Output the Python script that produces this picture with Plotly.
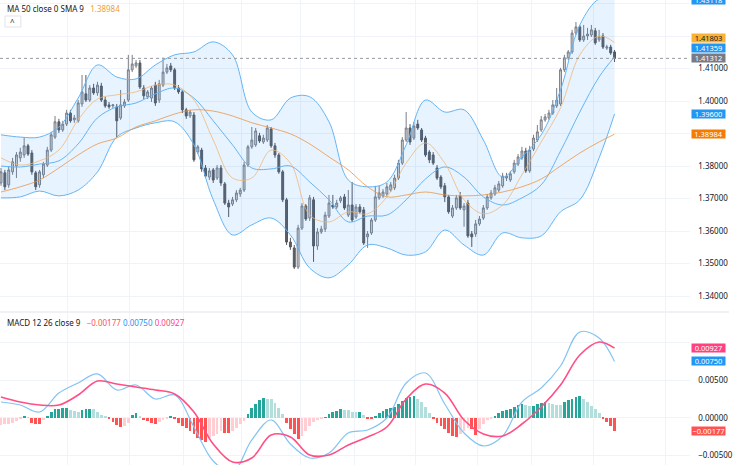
import plotly.graph_objects as go

# ---------------- data ----------------
bar_idx = list(range(160))

open_p = [1.3748,1.3779,1.3742,1.3782,1.3800,1.3825,1.3834,1.3862,1.3840,1.3779,
          1.3742,1.3773,1.3803,1.3849,1.3889,1.3936,1.3911,1.3929,1.3963,1.3942,
          1.3939,1.3991,1.4022,1.4003,1.4040,1.4025,1.4046,1.4003,1.3988,1.3985,
          1.3982,1.3948,1.3985,1.4003,1.4096,1.4108,1.4117,1.4040,1.4013,1.4009,
          1.4049,1.4003,1.4049,1.4089,1.4108,1.4096,1.4040,1.4028,1.3973,1.3954,
          1.3957,1.3843,1.3849,1.3794,1.3766,1.3788,1.3763,1.3794,1.3745,1.3686,
          1.3683,1.3696,1.3714,1.3726,1.3803,1.3859,1.3865,1.3893,1.3874,1.3880,
          1.3914,1.3862,1.3834,1.3782,1.3696,1.3566,1.3548,1.3489,1.3609,1.3677,
          1.3640,1.3696,1.3554,1.3597,1.3606,1.3646,1.3680,1.3674,1.3693,1.3705,
          1.3649,1.3680,1.3643,1.3674,1.3665,1.3582,1.3594,1.3634,1.3702,1.3708,
          1.3714,1.3726,1.3733,1.3763,1.3809,1.3880,1.3917,1.3886,1.3929,1.3911,
          1.3886,1.3843,1.3834,1.3794,1.3766,1.3739,1.3705,1.3646,1.3671,1.3708,
          1.3665,1.3686,1.3591,1.3591,1.3622,1.3640,1.3671,1.3702,1.3714,1.3726,
          1.3739,1.3763,1.3757,1.3782,1.3806,1.3825,1.3846,1.3785,1.3852,1.3880,
          1.3911,1.3942,1.3948,1.3963,1.3985,1.3991,1.4096,1.4133,1.4151,1.4209,
          1.4228,1.4188,1.4200,1.4203,1.4216,1.4188,1.4200,1.4163,1.4166,1.4151]
high_p = [1.3794,1.3788,1.3800,1.3825,1.3843,1.3856,1.3889,1.3868,1.3849,1.3785,
          1.3788,1.3813,1.3859,1.3905,1.3954,1.3945,1.3939,1.3973,1.3973,1.3957,
          1.4003,1.4080,1.4080,1.4049,1.4053,1.4059,1.4056,1.4013,1.3997,1.3991,
          1.3991,1.4034,1.4006,1.4142,1.4142,1.4126,1.4126,1.4049,1.4034,1.4046,
          1.4059,1.4065,1.4133,1.4114,1.4117,1.4102,1.4049,1.4034,1.3979,1.3973,
          1.3966,1.3865,1.3856,1.3803,1.3794,1.3794,1.3803,1.3803,1.3751,1.3696,
          1.3705,1.3726,1.3733,1.3813,1.3865,1.3920,1.3917,1.3902,1.3896,1.3926,
          1.3920,1.3871,1.3840,1.3788,1.3702,1.3579,1.3557,1.3619,1.3686,1.3683,
          1.3711,1.3705,1.3609,1.3616,1.3659,1.3711,1.3711,1.3696,1.3708,1.3714,
          1.3726,1.3751,1.3683,1.3683,1.3674,1.3600,1.3640,1.3739,1.3739,1.3729,
          1.3748,1.3751,1.3773,1.3819,1.3889,1.3966,1.3929,1.3936,1.3942,1.3917,
          1.3893,1.3849,1.3843,1.3803,1.3772,1.3748,1.3711,1.3680,1.3711,1.3720,
          1.3686,1.3696,1.3600,1.3634,1.3646,1.3680,1.3714,1.3726,1.3742,1.3754,
          1.3779,1.3779,1.3785,1.3819,1.3837,1.3859,1.3856,1.3862,1.3896,1.3926,
          1.3954,1.3960,1.3973,1.4003,1.4040,1.4102,1.4142,1.4157,1.4219,1.4243,
          1.4234,1.4234,1.4225,1.4234,1.4225,1.4219,1.4209,1.4173,1.4173,1.4157]
low_p = [1.3739,1.3726,1.3733,1.3773,1.3763,1.3813,1.3825,1.3831,1.3773,1.3726,
         1.3733,1.3763,1.3797,1.3843,1.3883,1.3902,1.3905,1.3923,1.3933,1.3933,
         1.3933,1.3982,1.3997,1.3997,1.4019,1.4016,1.3997,1.3979,1.3976,1.3979,
         1.3889,1.3942,1.3979,1.3997,1.4089,1.4102,1.4037,1.4006,1.4006,1.3997,
         1.3985,1.3994,1.4043,1.4083,1.4089,1.4034,1.4022,1.3963,1.3945,1.3948,
         1.3813,1.3837,1.3782,1.3763,1.3757,1.3748,1.3757,1.3739,1.3680,1.3643,
         1.3677,1.3689,1.3705,1.3720,1.3797,1.3853,1.3859,1.3871,1.3868,1.3874,
         1.3856,1.3825,1.3776,1.3689,1.3557,1.3542,1.3483,1.3483,1.3603,1.3631,
         1.3631,1.3505,1.3542,1.3591,1.3597,1.3640,1.3668,1.3668,1.3686,1.3665,
         1.3643,1.3628,1.3637,1.3653,1.3557,1.3548,1.3588,1.3628,1.3696,1.3702,
         1.3708,1.3720,1.3726,1.3757,1.3803,1.3874,1.3865,1.3880,1.3911,1.3874,
         1.3828,1.3809,1.3803,1.3757,1.3729,1.3689,1.3653,1.3640,1.3665,1.3665,
         1.3613,1.3579,1.3551,1.3582,1.3616,1.3634,1.3665,1.3696,1.3708,1.3720,
         1.3733,1.3754,1.3751,1.3776,1.3800,1.3819,1.3779,1.3779,1.3846,1.3874,
         1.3905,1.3936,1.3942,1.3957,1.3979,1.3985,1.4089,1.4126,1.4145,1.4203,
         1.4182,1.4182,1.4188,1.4197,1.4173,1.4182,1.4160,1.4157,1.4142,1.4120]
close_p = [1.3782,1.3736,1.3788,1.3813,1.3834,1.3843,1.3862,1.3837,1.3782,1.3736,
           1.3782,1.3806,1.3849,1.3896,1.3936,1.3911,1.3929,1.3963,1.3939,1.3948,
           1.3994,1.4028,1.4003,1.4040,1.4025,1.4049,1.4003,1.3985,1.3982,1.3988,
           1.3939,1.3988,1.3997,1.4096,1.4114,1.4117,1.4043,1.4016,1.4028,1.4040,
           1.3994,1.4053,1.4089,1.4102,1.4096,1.4040,1.4028,1.3973,1.3954,1.3966,
           1.3819,1.3859,1.3791,1.3769,1.3785,1.3757,1.3794,1.3748,1.3686,1.3674,
           1.3696,1.3717,1.3726,1.3803,1.3859,1.3880,1.3908,1.3877,1.3886,1.3917,
           1.3862,1.3834,1.3782,1.3696,1.3566,1.3551,1.3489,1.3609,1.3677,1.3637,
           1.3702,1.3554,1.3597,1.3606,1.3649,1.3686,1.3674,1.3686,1.3702,1.3671,
           1.3680,1.3634,1.3674,1.3659,1.3563,1.3591,1.3634,1.3705,1.3717,1.3720,
           1.3736,1.3742,1.3763,1.3809,1.3880,1.3917,1.3874,1.3923,1.3917,1.3880,
           1.3834,1.3819,1.3809,1.3763,1.3736,1.3705,1.3659,1.3671,1.3702,1.3671,
           1.3677,1.3585,1.3582,1.3622,1.3637,1.3671,1.3705,1.3717,1.3733,1.3745,
           1.3769,1.3769,1.3776,1.3809,1.3828,1.3846,1.3785,1.3849,1.3886,1.3905,
           1.3942,1.3951,1.3963,1.3988,1.4003,1.4096,1.4133,1.4151,1.4209,1.4228,
           1.4188,1.4200,1.4206,1.4219,1.4179,1.4197,1.4166,1.4166,1.4148,1.4131]

# indicator lines, read at these bar positions
ind_idx = [0,5,10,15,20,25,30,35,40,45,50,55,60,65,70,75,80,85,90,95,
           100,105,110,115,120,125,130,135,140,145,150,155,159]
bb_upper = [1.3896,1.3889,1.3889,1.3920,1.4009,1.4111,1.4074,1.4068,1.4111,1.4142,
            1.4151,1.4182,1.4142,1.3966,1.3942,1.4009,1.4013,1.3936,1.3757,1.3736,
            1.3751,1.3865,1.4003,1.3966,1.3973,1.3880,1.3766,1.3828,1.3896,1.4034,
            1.4234,1.4314,1.4312]
bb_mid = [1.3800,1.3797,1.3806,1.3816,1.3868,1.3948,1.3982,1.3994,1.4022,1.4040,
          1.4009,1.3939,1.3865,1.3794,1.3791,1.3800,1.3751,1.3696,1.3628,1.3646,
          1.3649,1.3696,1.3760,1.3797,1.3766,1.3705,1.3680,1.3702,1.3742,1.3846,
          1.3966,1.4074,1.4136]
bb_lower = [1.3702,1.3705,1.3723,1.3708,1.3726,1.3782,1.3889,1.3917,1.3933,1.3936,
            1.3865,1.3696,1.3588,1.3619,1.3640,1.3588,1.3486,1.3456,1.3496,1.3557,
            1.3548,1.3526,1.3536,1.3603,1.3557,1.3526,1.3594,1.3579,1.3585,1.3659,
            1.3696,1.3825,1.3960]
ma_fast = [1.3825,1.3803,1.3816,1.3849,1.3942,1.4006,1.4019,1.4028,1.4049,1.4049,
           1.4003,1.3880,1.3763,1.3763,1.3849,1.3809,1.3649,1.3628,1.3659,1.3653,
           1.3705,1.3809,1.3871,1.3809,1.3696,1.3653,1.3680,1.3773,1.3874,1.3979,
           1.4142,1.4200,1.4180]
ma_50 = [1.3720,1.3736,1.3757,1.3794,1.3834,1.3868,1.3886,1.3920,1.3939,1.3960,
         1.3973,1.3969,1.3954,1.3933,1.3917,1.3899,1.3868,1.3828,1.3788,1.3736,
         1.3705,1.3711,1.3720,1.3711,1.3708,1.3711,1.3720,1.3736,1.3760,1.3800,
         1.3840,1.3874,1.3898]

macd_line = [0.00209,0.00169,0.00076,0.00329,0.00463,0.00583,0.00369,0.00436,0.00249,0.00303,
             -0.00124,-0.00577,-0.00724,-0.00297,-0.00031,-0.00351,-0.00537,-0.00471,-0.00204,-0.00164,
             -0.00004,0.00463,0.00596,0.00183,-0.00204,-0.00377,-0.00244,0.00209,0.00396,0.00689,
             0.01143,0.01063,0.00750]
signal_line = [0.00276,0.00209,0.00169,0.00169,0.00303,0.00489,0.00449,0.00409,0.00369,0.00316,
               0.00076,-0.00351,-0.00591,-0.00537,-0.00231,-0.00257,-0.00497,-0.00497,-0.00364,-0.00257,
               -0.00124,0.00249,0.00449,0.00329,-0.00031,-0.00217,-0.00244,-0.00084,0.00143,0.00436,
               0.00836,0.01009,0.00927]
hist = [-0.00098,-0.00089,-0.00080,-0.00067,-0.00044,-0.00022,0.00013,0.00004,-0.00067,-0.00080,
        -0.00089,-0.00036,0.00022,0.00080,0.00111,0.00120,0.00124,0.00129,0.00102,0.00089,
        0.00076,0.00102,0.00111,0.00120,0.00111,0.00080,0.00036,0.00013,-0.00022,-0.00053,
        -0.00098,-0.00124,-0.00111,-0.00067,0.00036,0.00062,0.00018,-0.00036,-0.00044,-0.00067,
        -0.00089,-0.00053,-0.00036,-0.00013,0.00013,-0.00022,-0.00067,-0.00111,-0.00142,-0.00178,
        -0.00213,-0.00267,-0.00302,-0.00320,-0.00267,-0.00244,-0.00213,-0.00178,-0.00200,-0.00204,
        -0.00178,-0.00133,-0.00089,-0.00044,0.00053,0.00124,0.00187,0.00231,0.00258,0.00253,
        0.00244,0.00200,0.00133,0.00053,-0.00067,-0.00156,-0.00222,-0.00289,-0.00244,-0.00178,
        -0.00111,-0.00053,-0.00036,-0.00018,0.00009,0.00044,0.00076,0.00093,0.00111,0.00107,
        0.00098,0.00080,0.00076,0.00080,0.00036,-0.00013,-0.00018,0.00013,0.00067,0.00089,
        0.00111,0.00124,0.00142,0.00187,0.00222,0.00258,0.00276,0.00289,0.00244,0.00204,
        0.00142,0.00067,-0.00009,-0.00067,-0.00111,-0.00156,-0.00200,-0.00244,-0.00258,-0.00222,
        -0.00178,-0.00133,-0.00156,-0.00231,-0.00147,-0.00080,-0.00036,-0.00009,0.00027,0.00062,
        0.00093,0.00107,0.00120,0.00142,0.00164,0.00182,0.00169,0.00156,0.00160,0.00178,
        0.00191,0.00204,0.00196,0.00182,0.00173,0.00169,0.00204,0.00231,0.00253,0.00276,
        0.00293,0.00244,0.00204,0.00160,0.00116,0.00067,-0.00018,-0.00062,-0.00111,-0.00177]

grid_idx = [17.3, 33.3, 47.2, 62.4, 77.6, 91.5, 107.5, 123.5, 137.6, 153.6, 172.2]
price_ticks = [1.34, 1.35, 1.36, 1.37, 1.38, 1.39, 1.40, 1.41, 1.42, 1.43]
price_labels = ["1.34000", "1.35000", "1.36000", "1.37000", "1.38000", "", "1.40000", "1.41000", "", ""]
macd_ticks = [-0.005, 0.0, 0.005, 0.01]
macd_labels = ["\u22120.00500", "0.00000", "0.00500", ""]
last_close = 1.41312

# ---------------- styling ----------------
W, H = 733, 465
FONT = "Noto Sans"
GRID = "#f0f3fa"
BB_COL = "#64b5f6"

hist_colors = []
for k, v in enumerate(hist):
    prev = hist[k - 1] if k > 0 else v
    if v >= 0:
        hist_colors.append("#26a69a" if v >= prev else "#b2dfdb")
    else:
        hist_colors.append("#ff5252" if v < prev else "#ffcdd2")

fig = go.Figure()

# Bollinger fill
fig.add_trace(go.Scatter(x=ind_idx, y=bb_upper, mode="lines", line=dict(color=BB_COL, width=1, shape="spline"),
                         xaxis="x", yaxis="y", hoverinfo="skip"))
fig.add_trace(go.Scatter(x=ind_idx, y=bb_lower, mode="lines", line=dict(color=BB_COL, width=1, shape="spline"),
                         fill="tonexty", fillcolor="rgba(33,150,243,0.11)", xaxis="x", yaxis="y", hoverinfo="skip"))
fig.add_trace(go.Scatter(x=ind_idx, y=bb_mid, mode="lines", line=dict(color=BB_COL, width=1, shape="spline"),
                         xaxis="x", yaxis="y", hoverinfo="skip"))
fig.add_trace(go.Scatter(x=ind_idx, y=ma_fast, mode="lines",
                         line=dict(color="rgba(242,180,110,0.75)", width=1, shape="spline"),
                         xaxis="x", yaxis="y", hoverinfo="skip"))
fig.add_trace(go.Scatter(x=ind_idx, y=ma_50, mode="lines",
                         line=dict(color="rgba(236,150,70,0.8)", width=1, shape="spline"),
                         xaxis="x", yaxis="y", hoverinfo="skip"))

fig.add_trace(go.Candlestick(x=bar_idx, open=open_p, high=high_p, low=low_p, close=close_p,
                             increasing=dict(line=dict(color="#7b7e86", width=1), fillcolor="#d3d4d8"),
                             decreasing=dict(line=dict(color="#55575e", width=1), fillcolor="#5d5f66"),
                             whiskerwidth=0, xaxis="x", yaxis="y", hoverinfo="skip"))

# MACD
fig.add_trace(go.Bar(x=bar_idx, y=hist, marker=dict(color=hist_colors, line=dict(width=0)), width=0.72,
                     xaxis="x2", yaxis="y2", hoverinfo="skip"))
fig.add_trace(go.Scatter(x=ind_idx, y=macd_line, mode="lines", line=dict(color="#82c4f4", width=1.2, shape="spline"),
                         xaxis="x2", yaxis="y2", hoverinfo="skip"))
fig.add_trace(go.Scatter(x=ind_idx, y=signal_line, mode="lines", line=dict(color="#ff4f84", width=1.6, shape="spline"),
                         xaxis="x2", yaxis="y2", hoverinfo="skip"))

XR = [-0.258, 178.61]
xdom = [0, 694 / W]
axis_common = dict(range=XR, domain=xdom, tickvals=grid_idx, showticklabels=False, showgrid=True,
                   gridcolor=GRID, gridwidth=1, zeroline=False, showline=False, ticks="", fixedrange=True)

fig.update_layout(
    width=W, height=H, margin=dict(l=0, r=0, t=0, b=0),
    paper_bgcolor="white", plot_bgcolor="white", showlegend=False,
    bargap=0, font=dict(family=FONT, size=8, color="#131722"),
    xaxis=dict(anchor="y", rangeslider=dict(visible=False), **axis_common),
    xaxis2=dict(anchor="y2", **axis_common),
    yaxis=dict(domain=[1 - 311 / H, 1], range=[1.33539, 1.43108], side="right", anchor="x",
               tickvals=price_ticks, ticktext=price_labels,
               showgrid=True, gridcolor=GRID, zeroline=False, ticks="", ticklabelstandoff=7,
               tickfont=dict(size=8, color="#131722", family=FONT)),
    yaxis2=dict(domain=[0, 1 - 313 / H], range=[-0.006307, 0.01396], side="right", anchor="x2",
                tickvals=macd_ticks, ticktext=macd_labels,
                showgrid=True, gridcolor=GRID, zeroline=False, ticks="", ticklabelstandoff=7,
                tickfont=dict(size=8, color="#131722", family=FONT)),
)

# last price dotted line and panel separator
fig.add_shape(type="line", xref="x", yref="y", x0=XR[0], x1=XR[1], y0=last_close, y1=last_close,
              line=dict(color="#9598a1", width=1, dash="dot"))
fig.add_shape(type="line", xref="paper", yref="paper", x0=0, x1=1, y0=1 - 312 / H, y1=1 - 312 / H,
              line=dict(color="#e0e3eb", width=1))

# right-side value boxes
def box(y, text, bg, yref, fg="white", size=7.5):
    fig.add_annotation(xref="paper", yref=yref, x=695 / W, y=y, xanchor="left", yanchor="middle",
                       text=text, showarrow=False, bgcolor=bg, width=32, height=6.5, borderpad=0.5,
                       font=dict(size=size, color=fg, family=FONT), align="center")

box(1 + 0.5 / H, "1.43118", "#2196f3", "paper")
box(1.41945, "1.41803", "#f9b234", "y", fg="#131722")
box(1.41631, "1.41359", "#2196f3", "y")
box(1.41310, "1.41312", "#787b86", "y")
box(1.3960, "1.39600", "#2196f3", "y")
box(1.38984, "1.38984", "#f57c00", "y")
box(0.00927, "0.00927", "#ff4081", "y2")
box(0.00750, "0.00750", "#2196f3", "y2")
box(-0.00177, "\u22120.00177", "#ff5252", "y2")

# legends
fig.add_annotation(xref="paper", yref="paper", x=5 / W, y=1 - 8 / H, xanchor="left", yanchor="middle",
                   showarrow=False, font=dict(size=8, color="#131722", family=FONT),
                   text="MA 50 close 0 SMA 9&nbsp;&nbsp;&nbsp;<span style='color:#f0a030'>1.38984</span>")
fig.add_shape(type="rect", xref="paper", yref="paper", x0=5 / W, x1=21 / W, y0=1 - 27 / H, y1=1 - 16 / H,
              line=dict(color="#e0e3eb", width=1), fillcolor="white")
fig.add_annotation(xref="paper", yref="paper", x=13 / W, y=1 - 21.5 / H, xanchor="center", yanchor="middle",
                   showarrow=False, text="^", font=dict(size=8, color="#131722", family=FONT))
fig.add_annotation(xref="paper", yref="paper", x=5 / W, y=1 - 322 / H, xanchor="left", yanchor="middle",
                   showarrow=False, font=dict(size=8, color="#131722", family=FONT),
                   text="MACD 12 26 close 9&nbsp;&nbsp;&nbsp;<span style='color:#ff5252'>\u22120.00177</span>"
                        "&nbsp;<span style='color:#2196f3'>0.00750</span>"
                        "&nbsp;<span style='color:#ff4081'>0.00927</span>")

fig.write_html("out.html")
